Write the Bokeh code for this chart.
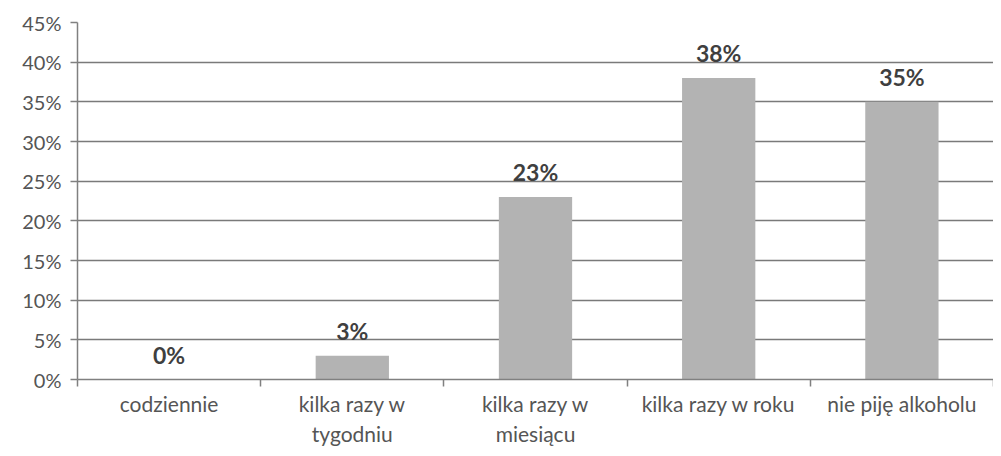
from bokeh.plotting import figure
from bokeh.models import FixedTicker, Range1d, NumeralTickFormatter, ColumnDataSource
from bokeh.core.properties import value
from bokeh.embed import file_html
from bokeh.resources import INLINE

categories = ["codziennie", "kilka razy w tygodniu", "kilka razy w miesiącu",
              "kilka razy w roku", "nie piję alkoholu"]
category_labels = ["codziennie", "kilka razy w\ntygodniu", "kilka razy w\nmiesiącu",
                   "kilka razy w roku", "nie piję alkoholu"]
values = [0.00, 0.03, 0.23, 0.38, 0.35]
value_labels = ["0%", "3%", "23%", "38%", "35%"]
y_ticks = [0.0, 0.05, 0.10, 0.15, 0.20, 0.25, 0.30, 0.35, 0.40, 0.45]

FONT = "Lato"
n = len(categories)
centers = [i + 0.5 for i in range(n)]
bounds = [float(i) for i in range(n + 1)]

src = ColumnDataSource(dict(x=centers, top=values, label=value_labels, cat=categories))

p = figure(width=993, height=448, output_backend="svg", toolbar_location=None,
           x_range=Range1d(0, n), y_range=Range1d(0, 0.45),
           min_border_left=77, min_border_right=0, min_border_top=22,
           min_border_bottom=68, outline_line_color=None)

p.vbar(x="x", top="top", width=0.4, source=src, fill_color="#b3b3b3",
       line_color=None)
p.text(x="x", y="top", text="label", source=src, text_align="center",
       text_baseline="bottom", y_offset=-11, text_font=value(FONT),
       text_font_size="23px", text_font_style="bold", text_color="#3f3f3f")

# y axis
p.yaxis.ticker = FixedTicker(ticks=y_ticks)
p.yaxis.formatter = NumeralTickFormatter(format="0%")
p.yaxis.major_label_text_font = FONT
p.yaxis.major_label_text_font_size = "20px"
p.yaxis.major_label_text_color = "#555555"
p.yaxis.axis_line_color = "#808080"
p.yaxis.axis_line_width = 1.5
p.yaxis.major_tick_line_color = "#808080"
p.yaxis.major_tick_line_width = 1.5
p.yaxis.major_tick_out = 7
p.yaxis.major_tick_in = 0
p.yaxis.minor_tick_line_color = None
p.yaxis.major_label_standoff = 9

# x axis
p.xaxis.ticker = FixedTicker(ticks=centers, minor_ticks=bounds)
p.xaxis.major_label_overrides = {c: l for c, l in zip(centers, category_labels)}
p.xaxis.major_label_text_font = FONT
p.xaxis.major_label_text_font_size = "21px"
p.xaxis.major_label_text_color = "#555555"
p.xaxis.major_tick_line_color = None
p.xaxis.minor_tick_line_color = "#808080"
p.xaxis.minor_tick_line_width = 1.5
p.xaxis.minor_tick_out = 7
p.xaxis.minor_tick_in = 0
p.xaxis.axis_line_color = "#808080"
p.xaxis.axis_line_width = 1.5
p.xaxis.major_label_standoff = 4

p.xgrid.grid_line_color = None
p.ygrid.grid_line_color = "#7a7a7a"
p.ygrid.grid_line_width = 1.5
p.background_fill_color = "white"
p.border_fill_color = "white"

open("out.html", "w").write(file_html(p, INLINE))
